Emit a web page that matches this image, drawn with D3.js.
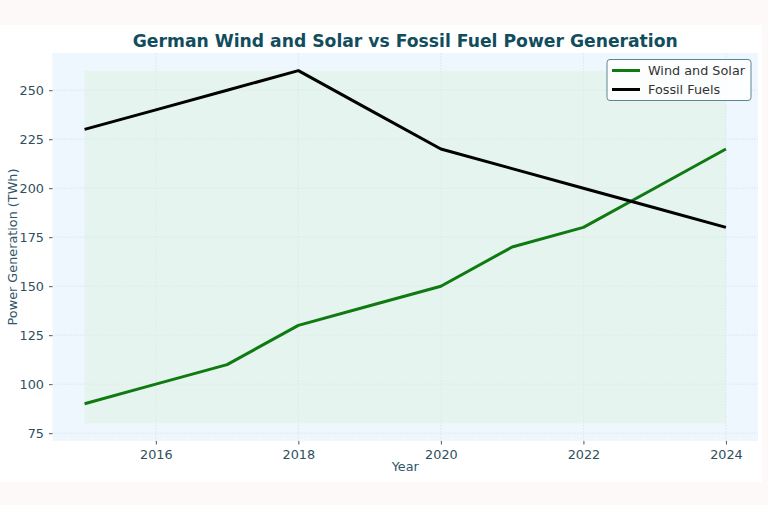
<!DOCTYPE html>
<html><head><meta charset="utf-8">
<script src="https://cdn.jsdelivr.net/npm/d3@7"></script>
<style>
html,body{margin:0;padding:0;background:#fdf9f9;}
svg{display:block;font-family:"DejaVu Sans",sans-serif;}
</style></head>
<body>
<svg id="chart" width="768" height="505"></svg>
<script>
const years = [2015,2016,2017,2018,2019,2020,2021,2022,2023,2024];
const windSolar = [90,100,110,130,140,150,170,180,200,220];
const fossil = [230,240,250,260,240,220,210,200,190,180];
const shadeRange = [80,260];
const xTicks = [2016,2018,2020,2022,2024];
const yTicks = [75,100,125,150,175,200,225,250];
const seriesNames = ["Wind and Solar","Fossil Fuels"];
const seriesColors = ["#0f7a12","#000000"];

const svg = d3.select("#chart");
svg.append("rect").attr("x",0).attr("y",25).attr("width",762).attr("height",457).attr("fill","#ffffff");

const L=52.5, R=758, T=53, B=441;
const x = d3.scaleLinear().domain([2014.55,2024.45]).range([L,R]);
const y = d3.scaleLinear().domain([71,269]).range([B,T]);

svg.append("rect").attr("x",L).attr("y",T).attr("width",R-L).attr("height",B-T).attr("fill","#eef6fe");

// grid
const g = svg.append("g");
g.selectAll(".gx").data(xTicks).join("line")
  .attr("x1",d=>x(d)).attr("x2",d=>x(d)).attr("y1",T).attr("y2",B)
  .attr("stroke","#cdd9de").attr("stroke-width",0.8).attr("stroke-dasharray","1.5,1.5").attr("opacity",0.7);
g.selectAll(".gy").data(yTicks).join("line")
  .attr("x1",L).attr("x2",R).attr("y1",d=>y(d)).attr("y2",d=>y(d))
  .attr("stroke","#cdd9de").attr("stroke-width",0.8).attr("stroke-dasharray","1.5,1.5").attr("opacity",0.7);

// shaded area
svg.append("path")
  .datum(years)
  .attr("d", d3.area().x(d=>x(d)).y0(y(shadeRange[0])).y1(y(shadeRange[1])))
  .attr("fill","#dcf2e0").attr("opacity",0.5);

// lines
const line = d3.line().x((d,i)=>x(years[i])).y(d=>y(d));
[windSolar,fossil].forEach((s,i)=>{
  svg.append("path").datum(s).attr("d",line).attr("fill","none")
    .attr("stroke",seriesColors[i]).attr("stroke-width",3).attr("stroke-linejoin","round");
});

// axes
const textColor = "#2f4f5c";
const xAxis = svg.append("g").attr("transform",`translate(0,${B})`)
  .call(d3.axisBottom(x).tickValues(xTicks).tickFormat(d3.format("d")).tickSize(3.5).tickPadding(5));
const yAxis = svg.append("g").attr("transform",`translate(${L},0)`)
  .call(d3.axisLeft(y).tickValues(yTicks).tickSize(3.5).tickPadding(5));
[xAxis,yAxis].forEach(a=>{
  a.select(".domain").remove();
  a.selectAll("line").attr("stroke","#555");
  a.selectAll("text").attr("fill",textColor).attr("font-size","12.8px").attr("font-family","DejaVu Sans");
});

// labels
svg.append("text").attr("x",(L+R)/2).attr("y",47).attr("text-anchor","middle")
  .attr("font-size","17.2px").attr("font-weight","bold").attr("fill","#124d5e").text("German Wind and Solar vs Fossil Fuel Power Generation");
svg.append("text").attr("x",(L+R)/2).attr("y",471).attr("text-anchor","middle")
  .attr("font-size","12.8px").attr("fill","#2f5566").text("Year");
svg.append("text").attr("transform",`translate(17,${(T+B)/2}) rotate(-90)`).attr("text-anchor","middle")
  .attr("font-size","12.8px").attr("fill","#2f5566").text("Power Generation (TWh)");

// legend
const lg = svg.append("g").attr("transform","translate(607,59.5)");
lg.append("rect").attr("width",144).attr("height",41).attr("rx",3)
  .attr("fill","#ffffff").attr("fill-opacity",0.85).attr("stroke","#5e8591").attr("stroke-width",1);
seriesNames.forEach((n,i)=>{
  const yy = 11 + i*19;
  lg.append("line").attr("x1",5).attr("x2",33).attr("y1",yy).attr("y2",yy)
    .attr("stroke",seriesColors[i]).attr("stroke-width",3);
  lg.append("text").attr("x",41).attr("y",yy+4.5).attr("font-size","12.8px").attr("fill","#333").text(n);
});
</script>
</body></html>
